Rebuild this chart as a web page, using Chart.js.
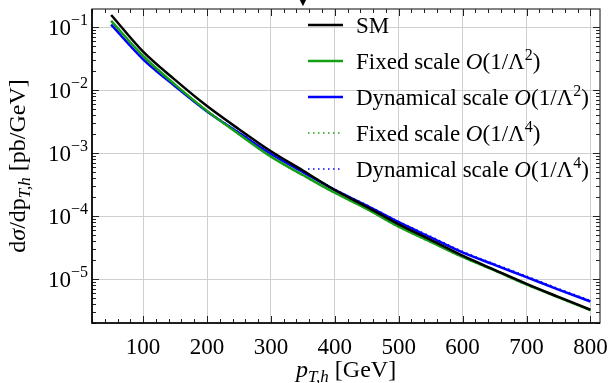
<!DOCTYPE html>
<html>
<head>
<meta charset="utf-8">
<script src="https://cdn.jsdelivr.net/npm/chart.js@4.4.1/dist/chart.umd.min.js"></script>
<style>
  html, body { margin: 0; padding: 0; background: #fff; }
  #wrap { width: 608px; height: 383px; }
</style>
</head>
<body>
<div id="wrap"><canvas id="c"></canvas></div>
<script>
// pT,h bins [GeV] and cross sections dσ/dpT,h [pb/GeV]
const pT = [50, 100, 150, 200, 250, 300, 350, 400, 450, 500, 550, 600, 650, 700, 750, 800];
const sm     = [0.157, 0.041, 0.0146, 0.0056, 0.0024, 0.00107, 5.3e-4, 2.6e-4, 1.4e-4, 7.4e-5, 4.2e-5, 2.35e-5, 1.4e-5, 8.4e-6, 5.2e-6, 3.25e-6];
const fixed2 = [0.127, 0.035, 0.0123, 0.0047, 0.0020, 0.00088, 4.5e-4, 2.35e-4, 1.3e-4, 6.8e-5, 3.9e-5, 2.25e-5, 1.37e-5, 8.2e-6, 5.1e-6, 3.2e-6];
const dyn2   = [0.110, 0.031, 0.0116, 0.0046, 0.0021, 0.00097, 5.0e-4, 2.6e-4, 1.47e-4, 8.0e-5, 4.6e-5, 2.65e-5, 1.68e-5, 1.07e-5, 6.8e-6, 4.4e-6];
const fixed4 = [0.126, 0.035, 0.0122, 0.0047, 0.0020, 0.00088, 4.4e-4, 2.33e-4, 1.29e-4, 6.7e-5, 3.85e-5, 2.22e-5, 1.36e-5, 8.1e-6, 5.05e-6, 3.15e-6];
const dyn4   = [0.109, 0.031, 0.0117, 0.0047, 0.00215, 0.00099, 5.1e-4, 2.66e-4, 1.5e-4, 8.2e-5, 4.75e-5, 2.74e-5, 1.74e-5, 1.11e-5, 7.05e-6, 4.55e-6];

const xTicks = [100, 200, 300, 400, 500, 600, 700, 800];
const yDecades = [-5, -4, -3, -2, -1];

const serif = '"Liberation Serif", "Times New Roman", serif';
const GREEN = '#14a014';
const BLUE = '#0000ff';
const DOTS = [1.5, 3.5];

// draw a run of text pieces: [text, style, size, dy]
function drawRich(ctx, segs, x, y, align) {
    let w = 0;
    segs.forEach(s => { ctx.font = `${s[1]} ${s[2]}px ${serif}`; w += ctx.measureText(s[0]).width; });
    let cx = align === 'right' ? x - w : align === 'center' ? x - w / 2 : x;
    ctx.textAlign = 'left';
    ctx.textBaseline = 'alphabetic';
    segs.forEach(s => {
        ctx.font = `${s[1]} ${s[2]}px ${serif}`;
        ctx.fillText(s[0], cx, y + (s[3] || 0));
        cx += ctx.measureText(s[0]).width;
    });
}

function legendLabel(order) {
    const base = order === 2 ? '2' : '4';
    return [['O', 'italic', 23], ['(1/Λ', 'normal', 23], [base, 'normal', 16, -9], [')', 'normal', 23]];
}

const legendItems = [
    { segs: [['SM', 'normal', 23]], color: '#000', dash: [] },
    { segs: [['Fixed scale ', 'normal', 23]].concat(legendLabel(2)), color: GREEN, dash: [] },
    { segs: [['Dynamical scale ', 'normal', 23]].concat(legendLabel(2)), color: BLUE, dash: [] },
    { segs: [['Fixed scale ', 'normal', 23]].concat(legendLabel(4)), color: GREEN, dash: DOTS },
    { segs: [['Dynamical scale ', 'normal', 23]].concat(legendLabel(4)), color: BLUE, dash: DOTS }
];

const decor = {
    id: 'decor',
    afterDraw(chart) {
        const ctx = chart.ctx;
        const a = chart.chartArea;
        const xs = chart.scales.x, ys = chart.scales.y;
        ctx.save();

        // ticks (inside, all four sides)
        ctx.strokeStyle = '#222';
        ctx.lineWidth = 1;
        ctx.beginPath();
        for (let v = 20; v <= xs.max; v += 20) {
            const px = Math.round(xs.getPixelForValue(v)) + 0.5;
            const len = v % 100 === 0 ? 7 : 4;
            ctx.moveTo(px, a.bottom); ctx.lineTo(px, a.bottom - len);
            ctx.moveTo(px, a.top); ctx.lineTo(px, a.top + len);
        }
        for (let d = -6; d <= 0; d++) {
            for (let m = 1; m <= 9; m++) {
                const v = m * Math.pow(10, d);
                if (v < ys.min || v > ys.max) continue;
                const py = Math.round(ys.getPixelForValue(v)) + 0.5;
                const len = m === 1 ? 7 : 4;
                ctx.moveTo(a.left, py); ctx.lineTo(a.left + len, py);
                ctx.moveTo(a.right, py); ctx.lineTo(a.right - len, py);
            }
        }
        ctx.stroke();

        // frame
        ctx.strokeStyle = '#333';
        ctx.lineWidth = 1.2;
        ctx.strokeRect(a.left, a.top, a.right - a.left, a.bottom - a.top);
        ctx.strokeStyle = '#000';
        ctx.lineWidth = 1.6;
        ctx.beginPath();
        ctx.moveTo(a.left, a.top); ctx.lineTo(a.left, a.bottom); ctx.lineTo(a.right, a.bottom);
        ctx.stroke();

        // tick labels
        ctx.fillStyle = '#000';
        xTicks.forEach(v => {
            drawRich(ctx, [[String(v), 'normal', 23]], xs.getPixelForValue(v), a.bottom + 31, 'center');
        });
        yDecades.forEach(d => {
            const py = ys.getPixelForValue(Math.pow(10, d));
            drawRich(ctx, [['10', 'normal', 23], ['\u2212' + (-d), 'normal', 16, -10]], a.left - 4, py + 8, 'right');
        });

        // axis titles
        drawRich(ctx, [['p', 'italic', 24], ['T,h', 'italic', 17, 5], [' [GeV]', 'normal', 24]],
            (a.left + a.right) / 2, 377, 'center');
        ctx.save();
        ctx.translate(25, (a.top + a.bottom) / 2);
        ctx.rotate(-Math.PI / 2);
        drawRich(ctx, [['d', 'normal', 24], ['σ', 'italic', 24], ['/dp', 'normal', 24], ['T,h', 'italic', 17, 5], [' [pb/GeV]', 'normal', 24]],
            0, 0, 'center');
        ctx.restore();

        // small marker above the frame
        drawRich(ctx, [['\u25BC', 'normal', 11]], xs.getPixelForValue(350), 6, 'center');

        // legend
        legendItems.forEach((it, i) => {
            const y = a.top + 16 + i * 36;
            ctx.strokeStyle = it.color;
            ctx.lineWidth = it.dash.length ? 1.6 : 2.5;
            ctx.setLineDash(it.dash);
            ctx.beginPath();
            ctx.moveTo(a.right - 292, y); ctx.lineTo(a.right - 257, y);
            ctx.stroke();
            ctx.setLineDash([]);
            ctx.fillStyle = '#000';
            drawRich(ctx, it.segs, a.right - 244, y + 8, 'left');
        });
        ctx.restore();
    }
};

function series(label, data, color, dashed) {
    return {
        label: label,
        data: data.map((v, i) => ({ x: pT[i], y: v })),
        borderColor: color,
        backgroundColor: color,
        borderWidth: dashed ? 1.6 : 2.5,
        borderDash: dashed ? DOTS : [],
        pointRadius: 0,
        cubicInterpolationMode: 'monotone',
        fill: false
    };
}

new Chart(document.getElementById('c'), {
    type: 'line',
    data: {
        datasets: [
            series('SM', sm, '#000', false),
            series('Fixed scale O(1/Λ²)', fixed2, GREEN, false),
            series('Dynamical scale O(1/Λ²)', dyn2, BLUE, false),
            series('Fixed scale O(1/Λ⁴)', fixed4, GREEN, true),
            series('Dynamical scale O(1/Λ⁴)', dyn4, BLUE, true)
        ]
    },
    options: {
        responsive: true,
        maintainAspectRatio: false,
        animation: false,
        layout: { padding: { left: 0, right: 8, top: 9, bottom: 0 } },
        plugins: { legend: { display: false }, tooltip: { enabled: false } },
        scales: {
            x: {
                type: 'linear',
                min: 20,
                max: 815,
                afterBuildTicks: s => { s.ticks = xTicks.map(v => ({ value: v })); },
                afterFit: s => { s.height = 60; },
                ticks: { display: false },
                grid: { color: '#cfcfcf', lineWidth: 1, drawTicks: false },
                border: { display: false }
            },
            y: {
                type: 'logarithmic',
                min: 2.0e-6,
                max: 0.1955,
                afterBuildTicks: s => { s.ticks = yDecades.map(d => ({ value: Math.pow(10, d) })); },
                afterFit: s => { s.width = 92; },
                ticks: { display: false },
                grid: { color: '#cfcfcf', lineWidth: 1, drawTicks: false },
                border: { display: false }
            }
        }
    },
    plugins: [decor]
});
</script>
</body>
</html>
